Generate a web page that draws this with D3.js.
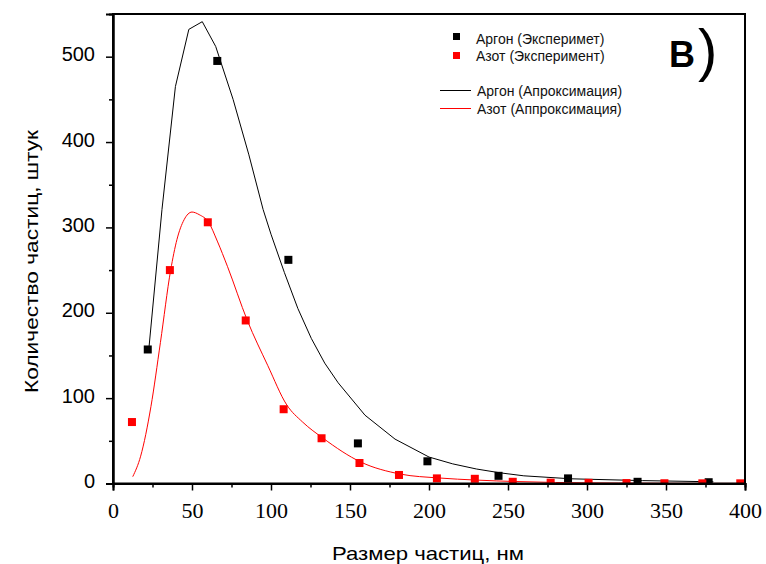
<!DOCTYPE html>
<html>
<head>
<meta charset="utf-8">
<script src="https://cdn.jsdelivr.net/npm/d3@7"></script>
<style>
  body { margin: 0; background: #fff; }
  svg { display: block; }
</style>
</head>
<body>
<script>
// Data
const argonSize = [22, 66, 111, 155, 199, 244, 288, 332, 377];
const argonCount = [157, 495, 262, 47, 26, 9, 6, 2, 1.5];

const nitrogenSize = [12, 36, 60, 84, 108, 132, 156, 181, 205, 229, 253, 277, 301, 325, 349, 373, 397];
const nitrogenCount = [72, 250, 306, 191, 87, 53, 24, 10, 6, 5.5, 2, 1, 0.8, 0.5, 0.3, 0.2, 0.2];

const argonFitSize = [22.5, 31, 39.5, 48, 56.5, 65, 76, 86, 95, 100, 108.5, 117, 125.5, 134, 142.5, 159.5, 178.5, 200, 215, 230, 245, 260, 290, 335, 380];
const argonFitCount = [154, 321, 465, 532, 541, 512, 450, 385, 321, 292, 247, 205, 170, 141, 118, 80, 52, 31, 23, 17, 12.5, 9, 5.5, 3.4, 2];

const nitrogenFitSize = [12.5, 17.5, 24, 30, 36.5, 40.5, 45, 50, 54.5, 60.5, 66, 72.5, 85, 98, 110, 120, 133, 157, 182, 206, 230, 255, 280, 320, 360, 400];
const nitrogenFitCount = [8, 32, 90, 165, 250, 286, 309, 318, 315, 306, 284, 254, 191, 138, 92, 72, 53, 25, 11, 6.5, 4, 2.3, 1.2, 0.5, 0.2, 0.1];

const xTicks = [0, 50, 100, 150, 200, 250, 300, 350, 400];
const xMinor = [25, 75, 125, 175, 225, 275, 325, 375];
const yTicks = [0, 100, 200, 300, 400, 500];
const yMinor = [50, 150, 250, 350, 450];

const legendLabels = ["Аргон (Эксперимет)", "Азот (Эксперимент)", "Аргон (Апроксимация)", "Азот (Аппроксимация)"];

// Dimensions
const width = 766;
const height = 564;
const plot = { left: 113, right: 745, top: 14, bottom: 483.5 };

const svg = d3.select("body")
  .append("svg")
  .attr("width", width)
  .attr("height", height);

// Scales
const xScale = d3.scaleLinear().domain([0, 400]).range([plot.left, plot.right]);
const yScale = d3.scaleLinear().domain([0, 550]).range([plot.bottom, plot.top]);

svg.append("clipPath").attr("id", "clip")
  .append("rect")
  .attr("x", plot.left).attr("y", plot.top)
  .attr("width", plot.right - plot.left).attr("height", plot.bottom - plot.top);

const area = svg.append("g").attr("clip-path", "url(#clip)");

// Fit curves
const line = d3.line().x(d => xScale(d[0])).y(d => yScale(d[1]));

area.append("path")
  .datum(argonFitSize.map((s, i) => [s, argonFitCount[i]]))
  .attr("fill", "none")
  .attr("stroke", "#000")
  .attr("stroke-width", 1)
  .attr("d", line);

area.append("path")
  .datum(nitrogenFitSize.map((s, i) => [s, nitrogenFitCount[i]]))
  .attr("fill", "none")
  .attr("stroke", "#ff0000")
  .attr("stroke-width", 1)
  .attr("d", line.curve(d3.curveMonotoneX));

// Experiment squares
const sq = 8;
area.selectAll(".ar")
  .data(argonSize.map((s, i) => [s, argonCount[i]]))
  .enter().append("rect")
  .attr("x", d => xScale(d[0]) - sq / 2)
  .attr("y", d => yScale(d[1]) - sq / 2)
  .attr("width", sq).attr("height", sq)
  .attr("fill", "#000");

area.selectAll(".n2")
  .data(nitrogenSize.map((s, i) => [s, nitrogenCount[i]]))
  .enter().append("rect")
  .attr("x", d => xScale(d[0]) - sq / 2)
  .attr("y", d => yScale(d[1]) - sq / 2)
  .attr("width", sq).attr("height", sq)
  .attr("fill", "#ff0000");

// Frame
svg.append("rect")
  .attr("x", plot.left).attr("y", plot.top)
  .attr("width", plot.right - plot.left).attr("height", plot.bottom - plot.top)
  .attr("fill", "none").attr("stroke", "#000").attr("stroke-width", 2);

// Axes
const gx = svg.append("g")
  .attr("transform", `translate(0,${plot.bottom})`)
  .call(d3.axisBottom(xScale).tickValues(xTicks).tickSize(7).tickFormat(d => d));
gx.selectAll("text")
  .attr("y", 34.5).attr("dy", null)
  .style("font-family", "'Liberation Serif', serif")
  .style("font-size", "22px")
  .attr("fill", "#000");

svg.append("g")
  .attr("transform", `translate(0,${plot.bottom})`)
  .call(d3.axisBottom(xScale).tickValues(xMinor).tickSize(4).tickFormat(""));

const gy = svg.append("g")
  .attr("transform", `translate(${plot.left},0)`)
  .call(d3.axisLeft(yScale).tickValues(yTicks).tickSize(7));
gy.selectAll("text")
  .attr("x", -18).attr("dy", "0.2em")
  .style("font-family", "'Liberation Sans', Arial, sans-serif")
  .style("font-size", "20px")
  .attr("fill", "#000");

svg.append("g")
  .attr("transform", `translate(${plot.left},0)`)
  .call(d3.axisLeft(yScale).tickValues(yMinor).tickSize(4).tickFormat(""));

svg.selectAll(".domain").attr("stroke-width", 2);
svg.selectAll(".tick line").attr("stroke-width", 1.5);

// Axis labels
svg.append("text")
  .attr("x", 332)
  .attr("y", 560)
  .attr("textLength", 192)
  .attr("lengthAdjust", "spacingAndGlyphs")
  .style("font-family", "'Liberation Sans', Arial, sans-serif")
  .style("font-size", "19px")
  .text("Размер частиц, нм");

svg.append("text")
  .attr("transform", "translate(38,393) rotate(-90)")
  .attr("textLength", 263)
  .attr("lengthAdjust", "spacingAndGlyphs")
  .style("font-family", "'Liberation Sans', Arial, sans-serif")
  .style("font-size", "19px")
  .text("Количество частиц, штук");

// Legend
const legendFont = g => g
  .style("font-family", "'Liberation Sans', Arial, sans-serif")
  .style("font-size", "14px")
  .attr("fill", "#111");

svg.append("rect").attr("x", 453).attr("y", 33).attr("width", 7).attr("height", 7).attr("fill", "#000");
svg.append("rect").attr("x", 453).attr("y", 52).attr("width", 7).attr("height", 7).attr("fill", "#ff0000");
svg.append("line").attr("x1", 440).attr("x2", 471).attr("y1", 90.5).attr("y2", 90.5).attr("stroke", "#000");
svg.append("line").attr("x1", 440).attr("x2", 471).attr("y1", 108.5).attr("y2", 108.5).attr("stroke", "#ff0000");

svg.append("text").attr("x", 476).attr("y", 43.5).call(legendFont).text(legendLabels[0]);
svg.append("text").attr("x", 476).attr("y", 61).call(legendFont).text(legendLabels[1]);
svg.append("text").attr("x", 477).attr("y", 95.5).call(legendFont).text(legendLabels[2]);
svg.append("text").attr("x", 477).attr("y", 113.5).call(legendFont).text(legendLabels[3]);

// Panel letter
svg.append("text")
  .attr("x", 669).attr("y", 67)
  .style("font-family", "'Liberation Sans', Arial, sans-serif")
  .style("font-size", "36px")
  .style("font-weight", "bold")
  .text("В");
svg.append("text")
  .attr("x", 698).attr("y", 70)
  .style("font-family", "'Liberation Sans', Arial, sans-serif")
  .style("font-size", "58px")
  .text(")");
</script>
</body>
</html>
